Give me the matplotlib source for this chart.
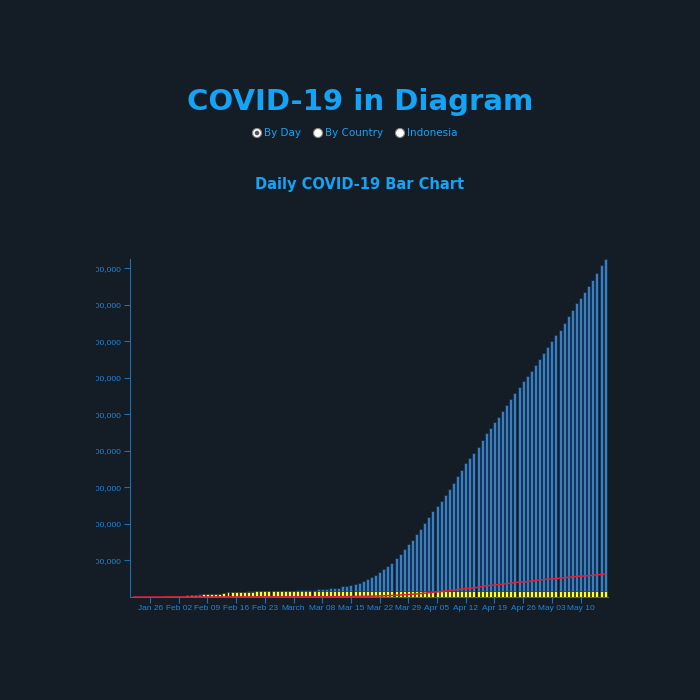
import matplotlib
matplotlib.use("Agg")
import matplotlib.pyplot as plt
from matplotlib.patches import Circle, Rectangle
from matplotlib.ticker import FuncFormatter, FixedLocator
import numpy as np

confirmed = [555, 654, 941, 1434, 2118, 2927, 5578, 6166, 8234, 9927,
 12038, 16787, 19881, 23892, 27635, 30794, 34391, 37120, 40150, 42762, 44802, 45221, 60368, 66885, 69030, 71224, 73258, 75136, 75639, 76197, 76819, 78572, 78958, 79561, 80406, 81388, 82746, 84112, 86011,
 88369, 90306, 92840, 95120, 97886, 101800, 105836, 109835, 113582, 118582, 125865, 128343, 145193, 156097, 167449, 181546, 197168, 214915, 242713, 272167, 304528, 336953, 378235, 418045, 467653, 529591, 593291, 660706, 720117, 782365, 857487,
 932605, 1013157, 1095917, 1176060, 1249754, 1321481, 1396476, 1480202, 1565278, 1657526, 1735650, 1834721, 1904838, 1976191, 2056054, 2152437, 2240190, 2317758, 2401378, 2472259, 2549294, 2624074, 2708885, 2795729, 2881140, 2955033, 3023722, 3097229, 3172287, 3256846,
 3343777, 3427343, 3506729, 3583055, 3662691, 3755341, 3845718, 3938064, 4024009, 4101699, 4177502, 4261747, 4347018, 4442163, 4542347, 4634068]

china = [548, 643, 920, 1406, 2075, 2877, 5509, 6087, 8141, 9802,
 11891, 16630, 19716, 23707, 27440, 30587, 34110, 36814, 39829, 42354, 44386, 44759, 59895, 66358, 68413, 70513, 72434, 74211, 74619, 75077, 75550, 77001, 77022, 77241, 77754, 78166, 78600, 78928, 79356,
 79932, 80136, 80261, 80386, 80537, 80690, 80770, 80823, 80860, 80887, 80921, 80932, 80945, 80977, 81003, 81033, 81058, 81102, 81156, 81250, 81305, 81435, 81498, 81591, 81661, 81782, 81897, 81999, 82122, 82198, 82279,
 82361, 82432, 82511, 82543, 82602, 82665, 82718, 82809, 82883, 82941, 83014, 83134, 83213, 83306, 83356, 83403, 83760, 83787, 83805, 83817, 83853, 83868, 83884, 83899, 83909, 83912, 83918, 83940, 83944, 83956,
 83959, 83959, 83964, 83966, 83968, 83970, 83975, 83976, 83990, 84010, 84011, 84018, 84024, 84029, 84038, 84044]

deaths = [17, 18, 26, 42, 56, 82, 131, 133, 171, 213,
 259, 362, 426, 492, 564, 634, 719, 806, 906, 1013, 1113, 1118, 1371, 1523, 1666, 1770, 1868, 2007, 2122, 2247, 2251, 2458, 2469, 2629, 2708, 2770, 2814, 2872, 2941,
 2996, 3085, 3160, 3254, 3348, 3460, 3558, 3802, 3988, 4262, 4615, 4720, 5404, 5819, 6440, 7126, 7905, 8733, 9867, 11299, 12973, 14623, 16497, 18615, 21181, 23970, 27198, 30652, 33925, 37582, 42107,
 46809, 52983, 58787, 64606, 69374, 74565, 81865, 88338, 95455, 102525, 108503, 114091, 119482, 125984, 134176, 143800, 153822, 159510, 165044, 169986, 176583, 183066, 190858, 197159, 202846, 206544, 211167, 217153, 227638, 233388,
 238650, 243808, 247470, 251537, 257239, 263855, 270740, 276302, 281461, 284796, 288247, 292835, 298165, 303351, 308866, 313220]

tick_days = [4, 11, 18, 25, 32, 39, 46, 53, 60, 67, 74, 81, 88, 95, 102, 109]
tick_labels = ["Jan 26", "Feb 02", "Feb 09", "Feb 16", "Feb 23", "March", "Mar 08", "Mar 15",
               "Mar 22", "Mar 29", "Apr 05", "Apr 12", "Apr 19", "Apr 26", "May 03", "May 10"]
y_ticks = [500000, 1000000, 1500000, 2000000, 2500000, 3000000, 3500000, 4000000, 4500000]

BG = "#141d26"
ACC = "#14a3f5"
AX = "#1f6fae"

fig = plt.figure(figsize=(7, 7), dpi=100, facecolor=BG)
fig.text(0.514, 0.855, "COVID-19 in Diagram", ha="center", va="center",
         fontsize=21, fontweight="bold", color=ACC)
fig.text(0.514, 0.737, "Daily COVID-19 Bar Chart", ha="center", va="center",
         fontsize=10.5, fontweight="bold", color=ACC)
for cx, lab, sel in [(257, "By Day", True), (318, "By Country", False), (400, "Indonesia", False)]:
    fig.add_artist(Circle((cx / 700, 1 - 133 / 700), 4.5 / 700, facecolor="white",
                          edgecolor="#888888", lw=0.8))
    if sel:
        fig.add_artist(Circle((cx / 700, 1 - 133 / 700), 2.3 / 700, facecolor="#555555", lw=0))
    fig.text((cx + 7) / 700, 1 - 133 / 700, lab, ha="left", va="center", fontsize=7.5, color=ACC)

ax = fig.add_axes([130 / 700, 103 / 700, 478 / 700, 338 / 700])
ax.set_facecolor(BG)
x = np.arange(len(confirmed))
ax.bar(x, confirmed, width=0.72, color="#3b7dbf", edgecolor="#0e2a44", linewidth=0.5, zorder=2)
ax.bar(x, china, width=0.72, color="#ffff2e", edgecolor="#2a2a10", linewidth=0.5, zorder=3)
ax.plot(x, deaths, color="#e0203c", lw=1.1, zorder=4)
ax.set_xlim(-0.9, 115.7)
ax.set_ylim(0, 4630000)
for s in ["top", "right"]:
    ax.spines[s].set_visible(False)
for s in ["left", "bottom"]:
    ax.spines[s].set_color(AX)
ax.xaxis.set_major_locator(FixedLocator(tick_days))
ax.set_xticklabels(tick_labels)
ax.set_yticks(y_ticks)
ax.yaxis.set_major_formatter(FuncFormatter(lambda v, p: f"{int(v):,}"))
ax.tick_params(colors=AX, labelcolor="#1a86dd", labelsize=6, length=4, pad=2)
for lab in ax.get_xticklabels() + ax.get_yticklabels():
    lab.set_fontfamily("Liberation Sans")
fig.add_artist(Rectangle((0, 0.1), 96 / 700, 0.55, facecolor=BG, edgecolor="none", zorder=10))
fig.savefig("out.png", dpi=100, facecolor=BG)
